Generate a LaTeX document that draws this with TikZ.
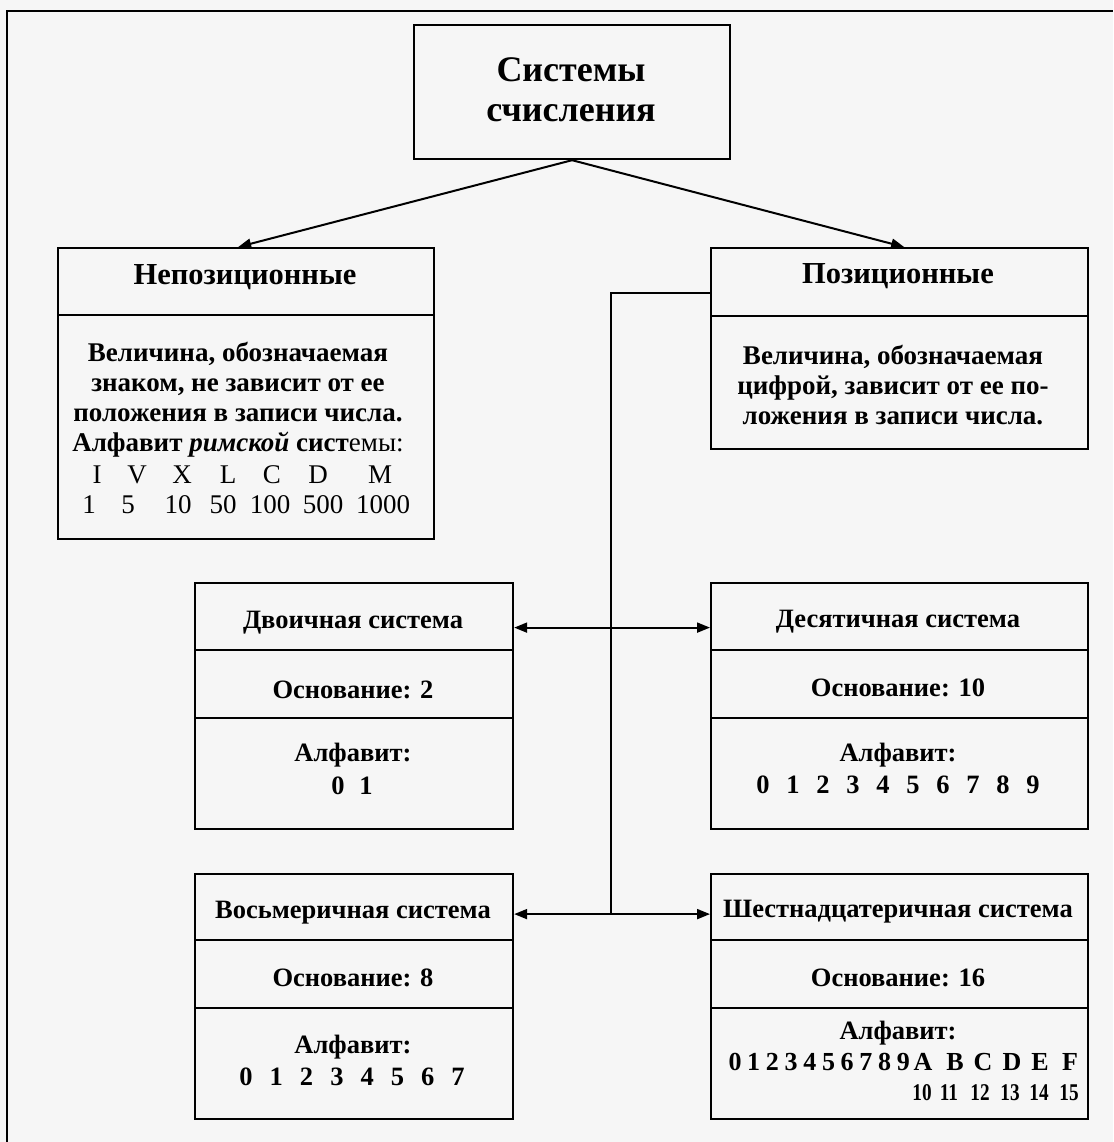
\documentclass[tikz,border=0pt]{standalone}
\usepackage{fontspec}
\setmainfont{Liberation Serif}
\usetikzlibrary{arrows.meta,calc}
\definecolor{bg}{RGB}{246,246,246}
\begin{document}
\begin{tikzpicture}[x=1pt,y=-1pt,
  part/.style={draw, line width=2.2pt, anchor=north west, inner sep=0pt},
  conn/.style={line width=2pt},
  tip/.tip={Triangle[length=13pt,width=10pt]},
  arr/.style={conn, -tip},
  darr/.style={conn, tip-tip},
  ttl/.style={inner sep=0pt, align=center, font=\fontsize{36}{40}\selectfont\bfseries},
  hd/.style={inner sep=0pt, align=center, font=\fontsize{30.5}{34}\selectfont\bfseries},
  bd/.style={inner sep=0pt, align=center, font=\fontsize{27}{30}\selectfont\bfseries},
  sm/.style={inner sep=0pt, align=center, font=\fontsize{26.5}{30}\selectfont\bfseries},
  rm/.style={inner sep=0pt, font=\fontsize{27}{30}\selectfont},
  hx/.style={inner sep=0pt, font=\fontsize{26}{30}\selectfont\bfseries},
  hn/.style={inner sep=0pt, font=\fontsize{24}{30}\selectfont\bfseries}
]
\fill[bg] (0,0) rectangle (1113,1142);
\useasboundingbox (0,0) rectangle (1113,1142);
\draw[line width=2pt] (7,1142) -- (7,11) -- (1113,11);

% boxes
\node[part, minimum width=316pt, minimum height=134pt] (top) at (413,24) {};
\node[part, minimum width=376pt, minimum height=67pt] (nph) at (57,247) {};
\node[part, minimum width=376pt, minimum height=224pt] (npb) at (57,314) {};
\node[part, minimum width=377pt, minimum height=68pt] (ph) at (710,247) {};
\node[part, minimum width=377pt, minimum height=133pt] (pb) at (710,315) {};

\node[part, minimum width=318pt, minimum height=67pt] (binh) at (194,582) {};
\node[part, minimum width=318pt, minimum height=68pt] (binb) at (194,649) {};
\node[part, minimum width=318pt, minimum height=111pt] (bina) at (194,717) {};
\node[part, minimum width=377pt, minimum height=67pt] (dech) at (710,582) {};
\node[part, minimum width=377pt, minimum height=68pt] (decb) at (710,649) {};
\node[part, minimum width=377pt, minimum height=111pt] (deca) at (710,717) {};

\node[part, minimum width=318pt, minimum height=66pt] (octh) at (194,873) {};
\node[part, minimum width=318pt, minimum height=68pt] (octb) at (194,939) {};
\node[part, minimum width=318pt, minimum height=111pt] (octa) at (194,1007) {};
\node[part, minimum width=377pt, minimum height=66pt] (hexh) at (710,873) {};
\node[part, minimum width=377pt, minimum height=68pt] (hexb) at (710,939) {};
\node[part, minimum width=377pt, minimum height=111pt] (hexa) at (710,1007) {};

% connectors
\coordinate (j2) at (611,913);
\draw[arr] (top.south) -- ($(nph.north west)!0.479!(nph.north east)$);
\draw[arr] (top.south) -- ($(ph.north west)!0.512!(ph.north east)$);
\draw[conn] ([yshift=-11pt]ph.west) -| (j2);
\draw[darr] ([yshift=-11pt]binh.east) -- ([yshift=-11pt]dech.west);
\draw[darr] ([yshift=-7pt]octh.east) -- ([yshift=-7pt]hexh.west);

% texts
\node[ttl] (t-top) at (571,90) {Системы\\счисления};
\node[hd] (t-nph) at (245,277) {Непозиционные};
\node[hd] (t-ph) at (898,276) {Позиционные};
\node[bd] (t-npb) at (238,400) {Величина, обозначаемая\\знаком, не зависит от ее\\положения в записи числа.\\Алфавит \textit{римской} сист{\mdseries емы:}};
\foreach \s/\x [count=\i] in {I/97,V/137,X/182,L/228,C/272,D/318,M/380}
  \node[rm] (rl\i) at (\x,475) {\s};
\foreach \s/\x [count=\i] in {1/89,5/128,10/178,50/223,100/270,500/323,1000/383}
  \node[rm] (rn\i) at (\x,505) {\s};
\node[bd] (t-pb) at (893,385) {Величина, обозначаемая\\цифрой, зависит от ее по-\\ложения в записи числа.};

\node[sm] (t-binh) at (353,623) {Двоичная система};
\node[sm] (t-binb) at (353,690) {Основание: 2};
\node[sm] (t-bina) at (353,755) {Алфавит:};
\node[sm] (bd0) at (338,786) {0};
\node[sm] (bd1) at (366,786) {1};

\node[sm] (t-dech) at (898,622) {Десятичная система};
\node[sm] (t-decb) at (898,688) {Основание: 10};
\node[sm] (t-deca) at (898,755) {Алфавит:};
\foreach \d in {0,...,9}
  \node[sm] (dd\d) at ({763+30*\d},785) {\d};

\node[sm] (t-octh) at (353,913) {Восьмеричная система};
\node[sm] (t-octb) at (353,978) {Основание: 8};
\node[sm] (t-octa) at (353,1047) {Алфавит:};
\foreach \d in {0,...,7}
  \node[sm] (od\d) at ({246+30.3*\d},1077) {\d};

\node[sm] (t-hexh) at (898,912) {Шестнадцатеричная система};
\node[sm] (t-hexb) at (898,978) {Основание: 16};
\node[sm] (t-hexa) at (898,1033) {Алфавит:};
\foreach \d in {0,...,9}
  \node[hx] (hd\d) at ({735+18.7*\d},1062) {\d};
\foreach \s/\x [count=\i] in {A/923,B/955,C/983,D/1012,E/1040,F/1070}
  \node[hx] (hl\i) at (\x,1062) {\s};
\foreach \s/\x [count=\i] in {10/922,11/949,12/980,13/1010,14/1039,15/1069}
  \node[hn] (hn\i) at (\x,1093) {\scalebox{0.8}[1]{\s}};
\end{tikzpicture}
\end{document}
